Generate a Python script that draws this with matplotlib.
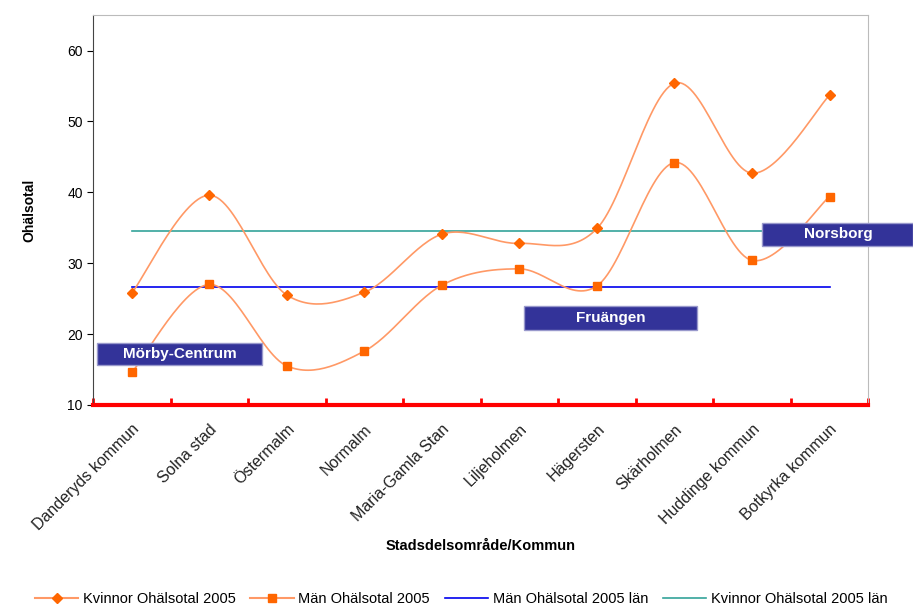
import numpy as np
import matplotlib
matplotlib.use("Agg")
from matplotlib import pyplot as plt
from matplotlib.lines import Line2D
from matplotlib.patches import Rectangle

plt.rcParams['font.family'] = ['Liberation Sans', 'DejaVu Sans']

omraden = ["Danderyds kommun", "Solna stad", "Östermalm", "Normalm", "Maria-Gamla Stan",
           "Liljeholmen", "Hägersten", "Skärholmen", "Huddinge kommun", "Botkyrka kommun"]
kvinnor = [25.8, 39.6, 25.5, 25.9, 34.1, 32.8, 34.9, 55.4, 42.7, 53.7]
man = [14.6, 27.0, 15.5, 17.6, 26.9, 29.2, 26.8, 44.2, 30.4, 39.4]
man_lan = 26.6
kvinnor_lan = 34.5

orange = "#ff6600"
curve = "#ff9966"


def smooth(y, n=30):
    # Catmull-Rom style smoothing like Excel's smoothed lines
    y = np.asarray(y, float)
    x = np.arange(len(y), dtype=float)
    px = np.concatenate([[x[0]], x, [x[-1]]])
    py = np.concatenate([[y[0]], y, [y[-1]]])
    xs, ys = [], []
    t = np.linspace(0, 1, n)
    for i in range(1, len(px) - 2):
        p0, p1, p2, p3 = py[i - 1], py[i], py[i + 1], py[i + 2]
        q0, q1, q2, q3 = px[i - 1], px[i], px[i + 1], px[i + 2]
        c1y, c2y = p1 + (p2 - p0) / 6, p2 - (p3 - p1) / 6
        c1x, c2x = q1 + (q2 - q0) / 6, q2 - (q3 - q1) / 6
        b = [(1 - t) ** 3, 3 * (1 - t) ** 2 * t, 3 * (1 - t) * t ** 2, t ** 3]
        xs.append(b[0] * q1 + b[1] * c1x + b[2] * c2x + b[3] * q2)
        ys.append(b[0] * p1 + b[1] * c1y + b[2] * c2y + b[3] * p2)
    return np.concatenate(xs), np.concatenate(ys)


fig = plt.figure(figsize=(9.13, 6.08), dpi=100)
ax = fig.add_axes([0.102, 0.334, 0.849, 0.641])
x = np.arange(len(omraden))

for vals, mk, ms in [(kvinnor, "D", 5), (man, "s", 6)]:
    sx, sy = smooth(vals)
    ax.plot(sx, sy, color=curve, lw=1.2, zorder=2)
    ax.plot(x, vals, ls="none", marker=mk, ms=ms, color=orange, zorder=3)

ax.plot([x[0], x[-1]], [man_lan, man_lan], color="#0000ee", lw=1.2, zorder=1)
ax.plot([x[0], x[-1]], [kvinnor_lan, kvinnor_lan], color="#33a39a", lw=1.2, zorder=1)

ax.set_xlim(-0.5, len(omraden) - 0.5)
ax.set_ylim(10, 65)
ax.set_yticks([10, 20, 30, 40, 50, 60])
ax.set_xticks(np.arange(len(omraden) + 1) - 0.5, minor=False)
ax.set_xticklabels([])
ax.set_xticks(x, minor=True)
ax.set_xticklabels(omraden, minor=True, rotation=45, ha="right", va="top",
                   rotation_mode="anchor", fontsize=11.5, color="#222222")
ax.tick_params(axis="x", which="minor", length=0, pad=12)
ax.tick_params(axis="x", which="major", length=5, color="red", width=2, direction="in")
ax.tick_params(axis="y", labelsize=10, length=4, direction="out")

ax.spines["bottom"].set_color("red")
ax.spines["bottom"].set_linewidth(3)
ax.spines["left"].set_color("#444444")
ax.spines["top"].set_color("#bbbbbb")
ax.spines["right"].set_color("#bbbbbb")

ax.set_ylabel("Ohälsotal", fontsize=10, fontweight="bold", labelpad=22)
ax.set_xlabel("Stadsdelsområde/Kommun", fontsize=10.5, fontweight="bold", labelpad=4)

# name boxes
boxes = [("Mörby-Centrum", 0.106, 0.400, 0.181, 0.036, 0.197),
         ("Fruängen", 0.574, 0.457, 0.189, 0.039, 0.669),
         ("Norsborg", 0.835, 0.595, 0.165, 0.039, 0.918)]
for name, bx, by, bw, bh, tx in boxes:
    fig.patches.append(Rectangle((bx, by), bw, bh, transform=fig.transFigure,
                                 fc="#333399", ec="#9999cc", lw=1, zorder=5))
    fig.text(tx, by + bh / 2, name, color="white", fontweight="bold",
             fontsize=11, ha="center", va="center", zorder=6)

handles = [
    Line2D([], [], color=curve, marker="D", ms=5, mfc=orange, mec=orange, lw=1.5),
    Line2D([], [], color=curve, marker="s", ms=6, mfc=orange, mec=orange, lw=1.5),
    Line2D([], [], color="#0000ee", lw=1.2),
    Line2D([], [], color="#33a39a", lw=1.2),
]
labels = ["Kvinnor Ohälsotal 2005", "Män Ohälsotal 2005",
          "Män Ohälsotal 2005 län", "Kvinnor Ohälsotal 2005 län"]
fig.legend(handles, labels, loc="center", bbox_to_anchor=(0.505, 0.015), ncol=4,
           frameon=False, fontsize=10.5, handlelength=3, columnspacing=1.0,
           handletextpad=0.3)

fig.savefig("out.png", dpi=100)
